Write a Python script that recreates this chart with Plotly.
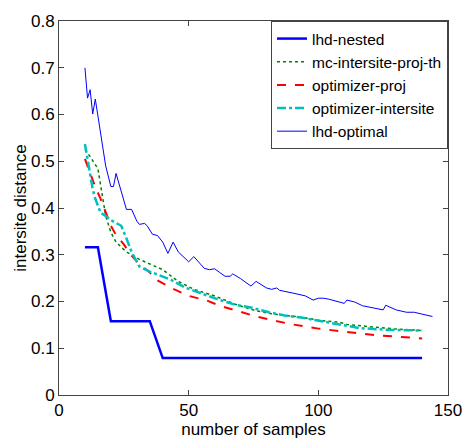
import plotly.graph_objects as go

# lhd-nested
nested_x = [10, 15, 20, 35, 40, 140]
nested_y = [0.316, 0.316, 0.158, 0.158, 0.079, 0.079]

# mc-intersite-proj-th
mc_x = [10, 12, 15, 16, 17, 18, 20, 22, 26, 31, 36, 40, 46, 52, 60, 68, 76, 83, 94, 101, 108, 111, 122, 130, 140]
mc_y = [0.525, 0.51, 0.484, 0.453, 0.418, 0.383, 0.348, 0.327, 0.306, 0.29, 0.278, 0.268, 0.243, 0.226, 0.212,
        0.194, 0.180, 0.173, 0.166, 0.159, 0.156, 0.151, 0.145, 0.141, 0.138]

# optimizer-proj
proj_x = [10, 12, 14, 16, 18, 20, 22, 25, 28, 31, 35, 38, 44, 50, 57, 63, 70, 76, 83, 90, 100, 106, 112, 122, 132, 140]
proj_y = [0.505, 0.474, 0.445, 0.42, 0.39, 0.362, 0.342, 0.322, 0.298, 0.28, 0.262, 0.245, 0.227, 0.212, 0.202,
          0.189, 0.178, 0.168, 0.159, 0.151, 0.142, 0.138, 0.135, 0.128, 0.124, 0.121]

# optimizer-intersite
inter_x = [10, 11, 12, 13, 14, 15, 16, 18, 20, 22, 24, 26, 28, 30, 31, 35, 43, 49, 56, 61, 68, 74, 81, 87, 94,
           100, 106, 112, 116, 128, 140]
inter_y = [0.537, 0.502, 0.467, 0.44, 0.42, 0.404, 0.39, 0.383, 0.374, 0.368, 0.362, 0.335, 0.306, 0.285, 0.275,
           0.264, 0.247, 0.229, 0.215, 0.205, 0.193, 0.187, 0.177, 0.170, 0.165, 0.159, 0.154, 0.147, 0.143,
           0.139, 0.138]

# lhd-optimal
opt_x = [10, 11, 12, 13, 14, 16, 18, 20, 21, 22, 24, 26, 28, 30, 31, 33, 34, 36, 38, 40, 42, 44, 46, 48, 50, 52,
         54, 56, 58, 60, 62, 64, 66, 67, 70, 72, 74, 76, 78, 80, 82, 84, 85, 88, 91, 95, 98, 100, 102, 104, 107,
         110, 111, 114, 117, 121, 125, 126, 130, 134, 137, 140, 144]
opt_y = [0.70, 0.635, 0.653, 0.601, 0.633, 0.556, 0.49, 0.446, 0.446, 0.474, 0.435, 0.397, 0.397, 0.372, 0.365,
         0.367, 0.362, 0.344, 0.341, 0.327, 0.303, 0.327, 0.306, 0.295, 0.285, 0.296, 0.283, 0.271, 0.268, 0.270,
         0.262, 0.254, 0.254, 0.259, 0.249, 0.240, 0.233, 0.243, 0.236, 0.229, 0.226, 0.229, 0.224, 0.221, 0.217,
         0.212, 0.203, 0.207, 0.207, 0.205, 0.200, 0.196, 0.203, 0.199, 0.191, 0.186, 0.182, 0.192, 0.182, 0.177,
         0.177, 0.173, 0.168]

x_ticks = [0, 50, 100, 150]
y_ticks = [0, 0.1, 0.2, 0.3, 0.4, 0.5, 0.6, 0.7, 0.8]

FONT = "Arial, Liberation Sans, sans-serif"

fig = go.Figure()
fig.add_trace(go.Scatter(x=nested_x, y=nested_y, mode="lines", name="lhd-nested",
                         line=dict(color="#0000ff", width=2.5)))
fig.add_trace(go.Scatter(x=mc_x, y=mc_y, mode="lines", name="mc-intersite-proj-th",
                         line=dict(color="#008000", width=1.5, dash="dot")))
fig.add_trace(go.Scatter(x=proj_x, y=proj_y, mode="lines", name="optimizer-proj",
                         line=dict(color="#ff0000", width=2, dash="dash")))
fig.add_trace(go.Scatter(x=inter_x, y=inter_y, mode="lines", name="optimizer-intersite",
                         line=dict(color="#00bfbf", width=2.5, dash="dashdot")))
fig.add_trace(go.Scatter(x=opt_x, y=opt_y, mode="lines", name="lhd-optimal",
                         line=dict(color="#0000ff", width=1)))

axis_common = dict(showgrid=False, zeroline=False, showline=True, linecolor="#444444", linewidth=1,
                   mirror="ticks", ticks="inside", ticklen=5, tickcolor="#444444",
                   tickfont=dict(family=FONT, size=17, color="#000000"))

fig.update_layout(
    width=474, height=446,
    margin=dict(l=59, r=18, t=15, b=50),
    paper_bgcolor="white", plot_bgcolor="white",
    font=dict(family=FONT, size=17, color="#000000"),
    xaxis=dict(range=[0, 150], tickvals=x_ticks, ticktext=[str(v) for v in x_ticks],
               title=dict(text="number of samples", font=dict(family=FONT, size=17), standoff=2),
               **axis_common),
    yaxis=dict(range=[0, 0.8], tickvals=y_ticks, ticktext=["0"] + [f"{v:.1f}" for v in y_ticks[1:]],
               title=dict(text="intersite distance", font=dict(family=FONT, size=17), standoff=0),
               **axis_common),
    legend=dict(x=1, y=1, xanchor="right", yanchor="top", bgcolor="white",
                bordercolor="#444444", borderwidth=1, font=dict(family=FONT, size=15.5),
                tracegroupgap=0, itemwidth=30),
    showlegend=True,
)

fig.write_html("out.html")
